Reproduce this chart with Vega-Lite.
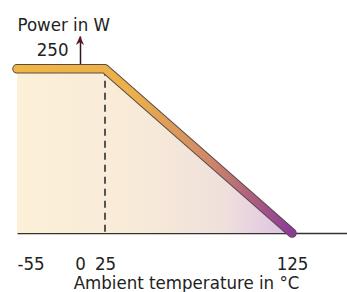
{
  "$schema": "https://vega.github.io/schema/vega-lite/v6.json",
  "width": 330,
  "height": 197,
  "autosize": {"type": "none"},
  "padding": {"left": 17, "top": 36, "right": 0, "bottom": 59},
  "background": "white",
  "config": {
    "view": {"stroke": null},
    "font": "DejaVu Sans Condensed, Liberation Sans Narrow, Liberation Sans, sans-serif"
  },
  "datasets": {
    "curve": [
      {"temp": -55, "power": 250},
      {"temp": 25, "power": 250},
      {"temp": 125, "power": 0}
    ],
    "knee": [{"temp": 25, "power": 250}],
    "top": [{"temp": 0, "power": 300}]
  },
  "encoding": {
    "x": {
      "field": "temp",
      "type": "quantitative",
      "scale": {"domain": [-55, 0, 25, 125, 150], "range": [0, 63, 88, 275, 330], "nice": false, "zero": false},
      "axis": {
        "values": [-55, 0, 25, 125],
        "labelExpr": "replace(datum.label, '\u2212', '-')",
        "labelFlush": true,
        "ticks": false,
        "grid": false,
        "domainColor": "#333333",
        "domainWidth": 1.5,
        "labelFontSize": 18.5,
        "labelColor": "#222222",
        "labelPadding": 21,
        "title": "Ambient temperature in °C",
        "titleFontSize": 18.5,
        "titleFontWeight": "normal",
        "titleColor": "#222222",
        "titlePadding": 1,
        "titleX": 169
      }
    },
    "y": {
      "field": "power",
      "type": "quantitative",
      "scale": {"domain": [0, 300], "nice": false},
      "axis": {
        "values": [250],
        "offset": -63,
        "ticks": false,
        "grid": false,
        "domainColor": "#2b1b1b",
        "domainWidth": 1.5,
        "labelFontSize": 18.5,
        "labelColor": "#222222",
        "labelPadding": 12,
        "labelOffset": -19,
        "title": "Power in W",
        "titleAngle": 0,
        "titleAlign": "left",
        "titleBaseline": "alphabetic",
        "titleX": -63,
        "titleY": -6,
        "titleFontSize": 18.5,
        "titleFontWeight": "normal",
        "titleColor": "#222222"
      }
    }
  },
  "layer": [
    {
      "data": {"name": "curve"},
      "mark": {
        "type": "area",
        "fill": {
          "gradient": "linear",
          "x1": 0, "y1": 0, "x2": 1, "y2": 0,
          "stops": [
            {"offset": 0, "color": "#fcf0d8"},
            {"offset": 0.45, "color": "#f8ead8"},
            {"offset": 0.75, "color": "#f0e0dc"},
            {"offset": 1, "color": "#dcc2e4"}
          ]
        }
      }
    },
    {
      "data": {"name": "knee"},
      "mark": {"type": "rule", "color": "#222222", "strokeWidth": 1.5, "strokeDash": [7, 5]},
      "encoding": {"y2": {"datum": 0}}
    },
    {
      "data": {"name": "curve"},
      "mark": {"type": "line", "stroke": "#5a4a48", "strokeWidth": 9.5, "strokeCap": "round", "strokeJoin": "round"}
    },
    {
      "data": {"name": "curve"},
      "mark": {
        "type": "line",
        "strokeWidth": 7.5,
        "strokeCap": "round",
        "strokeJoin": "round",
        "stroke": {
          "gradient": "linear",
          "x1": 0, "y1": 0, "x2": 1, "y2": 0,
          "stops": [
            {"offset": 0, "color": "#efb643"},
            {"offset": 0.42, "color": "#ebb04a"},
            {"offset": 0.7, "color": "#cf8868"},
            {"offset": 1, "color": "#8c3a98"}
          ]
        }
      }
    },
    {
      "data": {"name": "top"},
      "mark": {
        "type": "point",
        "shape": "M0,0 L0.45,1 L0,0.7 L-0.45,1 Z",
        "size": 324,
        "filled": true,
        "color": "#5e1424",
        "opacity": 1
      }
    }
  ]
}
